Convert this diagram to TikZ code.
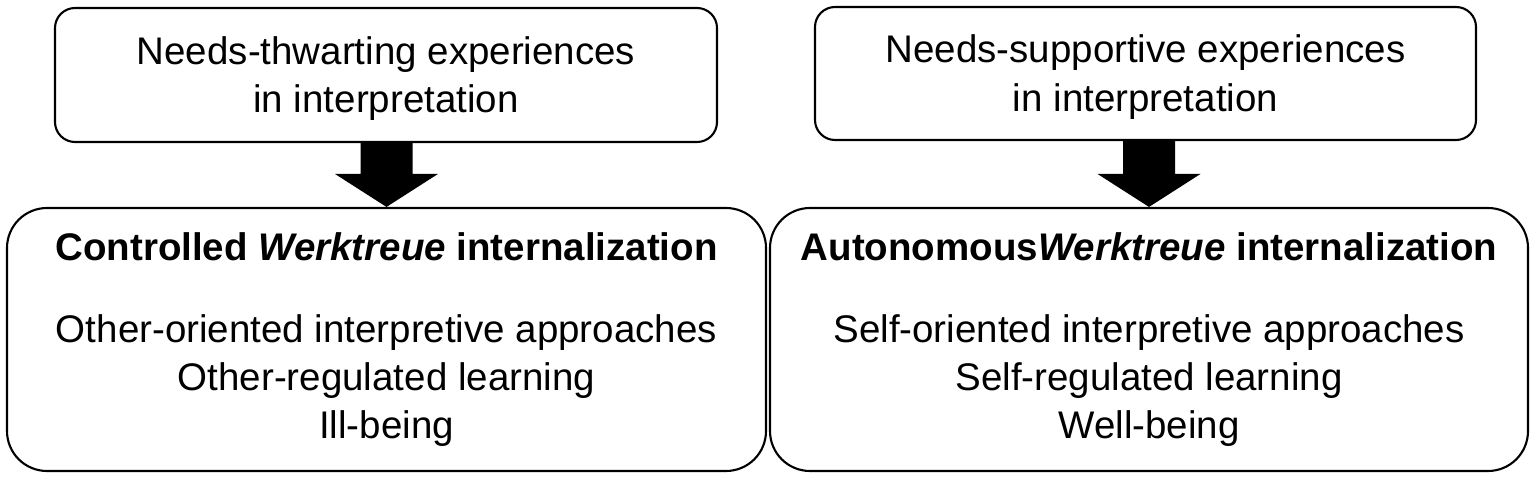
\documentclass[tikz,border=0pt]{standalone}
\usepackage{fontspec}
\setmainfont{Liberation Sans}
\usetikzlibrary{calc}

\begin{document}
\begin{tikzpicture}[
	box/.style={draw, line width=0.6pt, rounded corners=0.2cm, inner sep=0pt, align=center,
		font=\fontsize{10.95}{13.66}\selectfont},
	bigbox/.style={box, rounded corners=0.4cm, minimum width=7.59cm, minimum height=2.63cm}]
	\useasboundingbox (0,0) rectangle (15.36,4.79);

	% Top row: experiences
	\node[box, minimum width=6.62cm, minimum height=1.34cm] (thwart) at (3.86,4.04)
		{\rule{0pt}{0.35cm}Needs-thwarting experiences\\in interpretation};
	\node[box, minimum width=6.61cm, minimum height=1.33cm] (support) at (11.455,4.055)
		{\rule{0pt}{0.35cm}Needs-supportive experiences\\in interpretation};

	% Bottom row: internalization
	\node[bigbox] (controlled) at (3.865,1.395)
		{\textbf{Controlled \textit{Werktreue} internalization}\\[9.67pt]
		Other-oriented interpretive approaches\\Other-regulated learning\\Ill-being};
	\node[bigbox, minimum width=7.58cm] (autonomous) at (11.49,1.395)
		{\textbf{Autonomous\textit{Werktreue} internalization}\\[9.67pt]
		Self-oriented interpretive approaches\\Self-regulated learning\\Well-being};

	% Block arrows
	%Left
	\fill ($(controlled.north |- thwart.south)+(-0.26,0)$) -- ($(controlled.north)+(-0.26,0.33)$)
		-- ($(controlled.north)+(-0.515,0.33)$) -- (controlled.north)
		-- ($(controlled.north)+(0.515,0.33)$) -- ($(controlled.north)+(0.26,0.33)$)
		-- ($(controlled.north |- thwart.south)+(0.26,0)$) -- cycle;
	%Right
	\fill ($(autonomous.north |- support.south)+(-0.26,0)$) -- ($(autonomous.north)+(-0.26,0.33)$)
		-- ($(autonomous.north)+(-0.515,0.33)$) -- (autonomous.north)
		-- ($(autonomous.north)+(0.515,0.33)$) -- ($(autonomous.north)+(0.26,0.33)$)
		-- ($(autonomous.north |- support.south)+(0.26,0)$) -- cycle;

\end{tikzpicture}
\end{document}
